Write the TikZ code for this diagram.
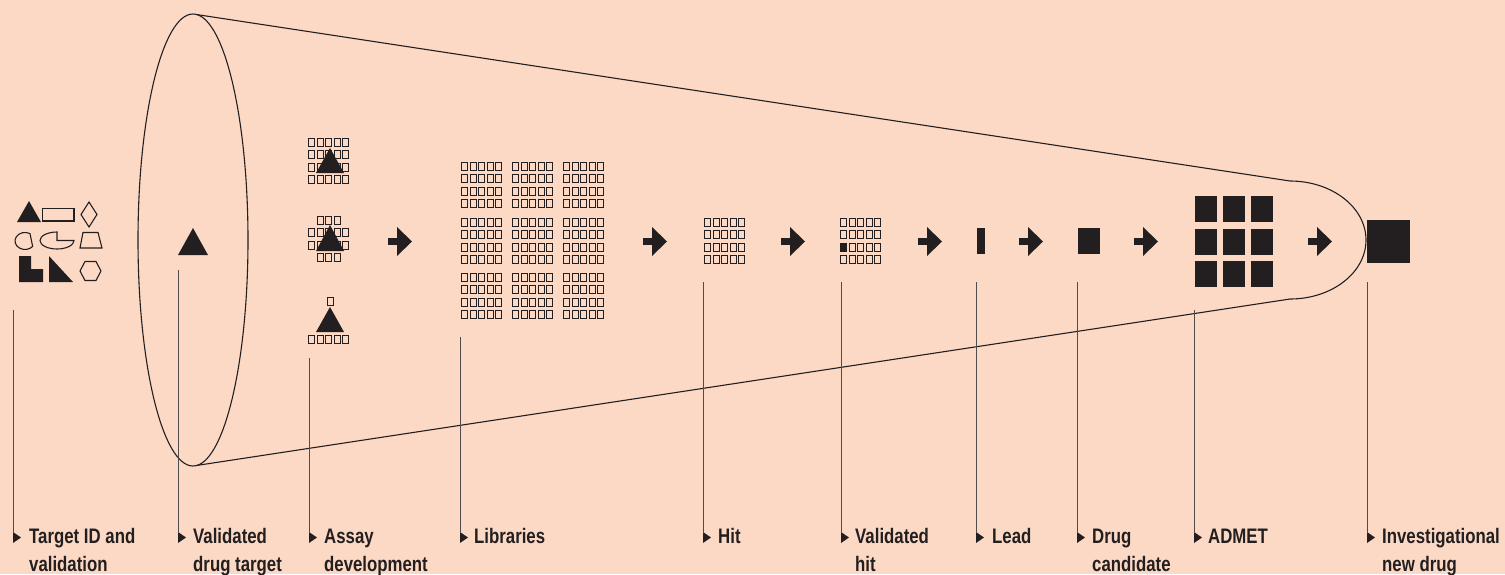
\documentclass[tikz,border=0pt]{standalone}
\usepackage{fontspec}
\newfontfamily\labfont{Liberation Sans}[FakeStretch=0.8]
\definecolor{bg}{RGB}{252,217,197}
\definecolor{ink}{RGB}{35,31,32}
\newcommand\cellgrid[4]{%
  \foreach \ci in {1,...,#3}{\foreach \cj in {1,...,#4}{%
    \draw[cell] ({#1+0.5+(\ci-1)*8.6},{#2+0.5+(\cj-1)*12.4}) rectangle ++(6,8);}}}
\newcommand\cellat[2]{\draw[cell] ({#1+0.5},{#2+0.5}) rectangle ++(6,8);}
\begin{document}
\begin{tikzpicture}[x=1pt,y=-1pt,
  cell/.style={draw=ink,line width=0.95pt},
  outl/.style={draw=ink,line width=1.1pt},
  leader/.style={draw=ink!80,line width=1pt},
  lab/.style={anchor=base west,inner sep=0pt,align=left,text=ink,
    font=\labfont\bfseries\fontsize{21}{28}\selectfont},
  flowarrow/.pic={\fill[ink] (0,-3.3) rectangle (10,3.3);
    \fill[ink] (9,-14.5) -- (24,0) -- (9,14.5) -- cycle;}]
\useasboundingbox (0,0) rectangle (1505,574);
\fill[bg] (0,0) rectangle (1505,574);

% funnel
\draw[outl] (193,240) ellipse[x radius=55, y radius=226];
\draw[outl] (197,14.6) -- (1290,181)
  arc[start angle=-90, end angle=90, x radius=76, y radius=59] -- (197,465.4);

% target shapes
\fill[ink] (17,222) -- (41,222) -- (29,201) -- cycle;
\draw[outl] (42.5,208.5) rectangle (74,221);
\draw[outl] (89,202) -- (97,214.5) -- (89,227) -- (81,214.5) -- cycle;
\draw[outl] (30,233.6) arc[start angle=-60, end angle=-320, x radius=10, y radius=8.5] -- cycle;
\draw[outl] (57,232) arc[start angle=-90, end angle=-360, x radius=17, y radius=8.5] -- (57,240.5) -- cycle;
\draw[outl] (83,232.5) -- (98,232.5) -- (102,248) -- (80,248) -- cycle;
\fill[ink] (19,256) -- (31,256) -- (31,269) -- (43,269) -- (43,282) -- (19,282) -- cycle;
\fill[ink] (49,256) -- (49,282) -- (73,282) -- cycle;
\draw[outl] (80,271) -- (85,261.5) -- (96,261.5) -- (101,271) -- (96,280.5) -- (85,280.5) -- cycle;

% validated drug target
\fill[ink] (178,255) -- (208,255) -- (193,228) -- cycle;

% assay development
\cellgrid{308}{138}{5}{4}
\fill[ink] (316,173) -- (344,173) -- (330,148) -- cycle;
\cellgrid{316.6}{216}{3}{1}
\cellgrid{308}{228.4}{5}{2}
\cellgrid{316.6}{253.2}{3}{1}
\fill[ink] (316,251) -- (344,251) -- (330,225) -- cycle;
\cellat{326.5}{297}
\fill[ink] (316,332) -- (344,332) -- (330,307) -- cycle;
\cellgrid{308}{335}{5}{1}

% libraries
\foreach \bx in {461,512,563}{\foreach \by in {162,218,273}{\cellgrid{\bx}{\by}{5}{4}}}

% hit, validated hit
\cellgrid{704}{218}{5}{4}
\cellgrid{840}{218}{5}{4}
\fill[ink] (840.5,243.3) rectangle ++(6,8);

% lead, candidate, ADMET, IND
\fill[ink] (977,228) rectangle (985,254);
\fill[ink] (1078,228) rectangle (1100,254);
\foreach \ax in {1195,1223,1251}{\foreach \ay in {196,228.5,261}{\fill[ink] (\ax,\ay) rectangle ++(22,26);}}
\fill[ink] (1367,220) rectangle (1410,263);

% process arrows
\foreach \px in {388,643,781,918,1019,1134,1308}{\pic at (\px,241.5) {flowarrow};}

% labels with leader lines (base = baseline of the last line)
\foreach \lx/\ty/\tx/\by/\txt [count=\n] in {
  13/310/29/571/{Target ID and\\validation},
  178/270/193/571/{Validated\\drug target},
  309/358/324/571/{Assay\\development},
  460/337/474/543/{Libraries},
  703/282/718/543/{Hit},
  841/282/855/571/{Validated\\hit},
  976/282/992/543/{Lead},
  1077/282/1092/571/{Drug\\candidate},
  1194/310/1208/543/{ADMET},
  1367/282/1382/571/{Investigational\\new drug}}{
  \coordinate (top\n) at (\lx,\ty);
  \coordinate (end\n) at (\lx,532);
  \node[lab] (lab\n) at (\tx,\by) {\txt};
  \draw[leader] (top\n) -- (end\n);
  \fill[ink] (end\n) -- ++(8,5.5) -- ++(-8,5.5) -- cycle;
}
\end{tikzpicture}
\end{document}
